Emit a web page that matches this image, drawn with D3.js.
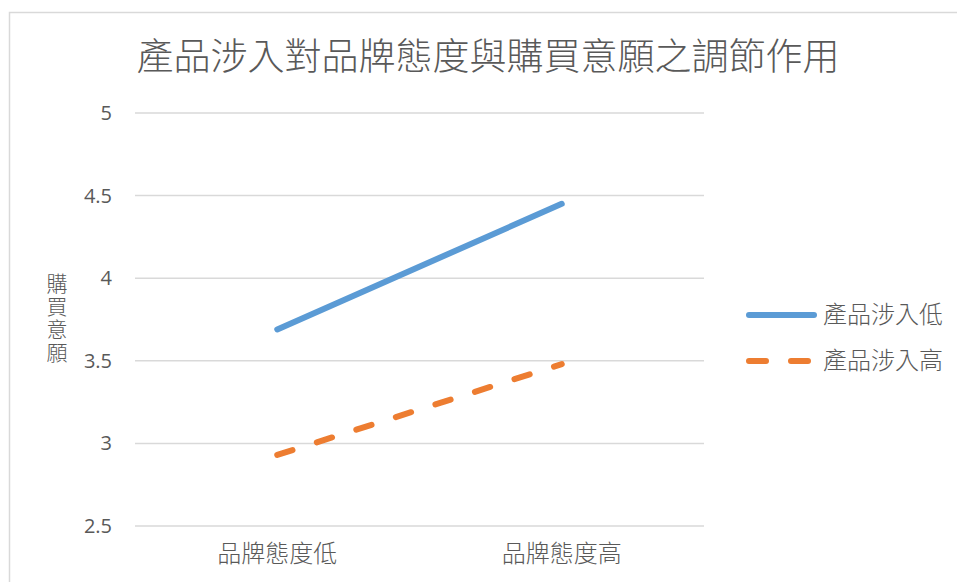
<!DOCTYPE html>
<html>
<head>
<meta charset="utf-8">
<script src="https://cdn.jsdelivr.net/npm/d3@7"></script>
<style>
  body { margin: 0; background: #fff; }
  svg text { fill: #595959; }
  .cjk { font-family: "Noto Sans CJK TC", "Noto Sans CJK SC", sans-serif; font-weight: 300; }
  .num { font-family: "Open Sans", "Noto Sans", sans-serif; }
</style>
</head>
<body>
<svg id="chart" width="957" height="582"></svg>
<script>
(function () {
  'use strict';

  // data
  const categories = ['品牌態度低', '品牌態度高'];
  const seriesNames = ['產品涉入低', '產品涉入高'];
  const lowInvolvement = [3.69, 4.45];
  const highInvolvement = [2.93, 3.48];
  const yTicks = [2.5, 3, 3.5, 4, 4.5, 5];

  const colours = ['#5b9bd5', '#ed7d31'];
  const dashes = [null, '16,25.5'];

  const svg = d3.select('#chart');

  // chart frame
  svg.append('rect')
    .attr('x', 9.5).attr('y', 12.5)
    .attr('width', 1000).attr('height', 700)
    .attr('fill', 'none')
    .attr('stroke', '#d9d9d9')
    .attr('stroke-width', 1.5);

  const margin = {top: 113, left: 135, right: 704, bottom: 526};

  const x = d3.scaleBand()
    .domain(categories)
    .range([margin.left, margin.right]);

  const y = d3.scaleLinear()
    .domain([2.5, 5])
    .range([margin.bottom, margin.top]);

  // grid
  svg.append('g')
    .selectAll('line')
    .data(yTicks)
    .enter()
    .append('line')
    .attr('x1', margin.left)
    .attr('x2', margin.right)
    .attr('y1', d => y(d))
    .attr('y2', d => y(d))
    .attr('stroke', '#d9d9d9')
    .attr('stroke-width', 1.5);

  // y axis labels
  const yAxis = d3.axisLeft(y)
    .tickValues(yTicks)
    .tickSize(0)
    .tickPadding(23)
    .tickFormat(d => d3.format('')(d));

  svg.append('g')
    .attr('transform', `translate(${margin.left},0)`)
    .call(yAxis)
    .call(g => g.select('.domain').remove())
    .selectAll('text')
    .attr('class', 'num')
    .style('font-size', '20px')
    .attr('fill', '#595959');

  // x axis labels
  const xAxis = d3.axisBottom(x).tickSize(0).tickPadding(19);
  svg.append('g')
    .attr('transform', `translate(0,${margin.bottom})`)
    .call(xAxis)
    .call(g => g.select('.domain').remove())
    .selectAll('text')
    .attr('class', 'cjk')
    .style('font-size', '24px')
    .attr('fill', '#595959');

  // lines
  const line = d3.line()
    .x((d, i) => x(categories[i]) + x.bandwidth() / 2)
    .y(d => y(d));

  [lowInvolvement, highInvolvement].forEach((vals, i) => {
    svg.append('path')
      .datum(vals)
      .attr('d', line)
      .attr('fill', 'none')
      .attr('stroke', colours[i])
      .attr('stroke-width', 6)
      .attr('stroke-linecap', 'round')
      .attr('stroke-dasharray', dashes[i]);
  });

  // title
  svg.append('text')
    .attr('class', 'cjk')
    .attr('x', 488)
    .attr('y', 70)
    .attr('text-anchor', 'middle')
    .style('font-size', '37px')
    .text('產品涉入對品牌態度與購買意願之調節作用');

  // y axis title, vertical
  svg.append('text')
    .attr('class', 'cjk')
    .attr('x', 57)
    .attr('y', 273)
    .attr('writing-mode', 'vertical-rl')
    .style('text-orientation', 'upright')
    .style('font-size', '21px')
    .style('letter-spacing', '2px')
    .text('購買意願');

  // legend
  const legend = svg.append('g');
  seriesNames.forEach((name, i) => {
    const ly = 315 + i * 46;
    legend.append('line')
      .attr('x1', 749).attr('x2', 814)
      .attr('y1', ly).attr('y2', ly)
      .attr('stroke', colours[i])
      .attr('stroke-width', 6)
      .attr('stroke-linecap', 'round')
      .attr('stroke-dasharray', i ? '17,25' : null);
    legend.append('text')
      .attr('class', 'cjk')
      .attr('x', 823)
      .attr('y', ly + 8)
      .style('font-size', '24px')
      .text(name);
  });
}());
</script>
</body>
</html>
